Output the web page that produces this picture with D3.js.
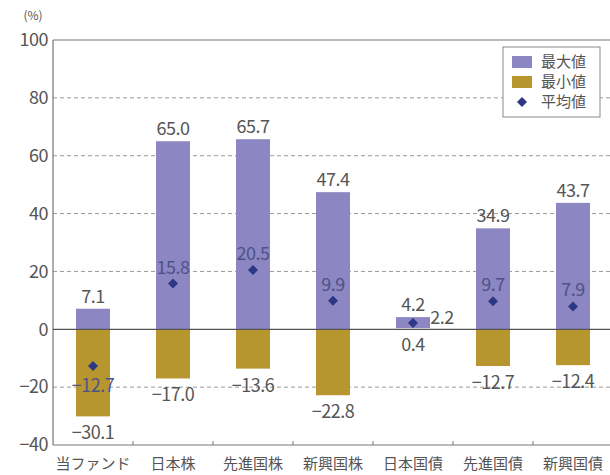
<!DOCTYPE html>
<html>
<head>
<meta charset="utf-8">
<script src="https://cdn.jsdelivr.net/npm/d3@7"></script>
<style>
  body { margin: 0; background: #fff; }
  svg text { font-family: "Noto Sans CJK JP", "Noto Sans", sans-serif; fill: #555; }
</style>
</head>
<body>
<svg id="chart" width="610" height="475"></svg>
<script>
var categories = ['当ファンド', '日本株', '先進国株', '新興国株', '日本国債', '先進国債', '新興国債'];
var maxValues = [7.1, 65.0, 65.7, 47.4, 4.2, 34.9, 43.7];
var minValues = [-30.1, -17.0, -13.6, -22.8, 0.4, -12.7, -12.4];
var avgValues = [-12.7, 15.8, 20.5, 9.9, 2.2, 9.7, 7.9];
var yTicks = [-40, -20, 0, 20, 40, 60, 80, 100];
var legendLabels = ['最大値', '最小値', '平均値'];

var margin = { top: 40, left: 53, bottom: 445, right: 613 };
var purple = '#8c86c2', gold = '#b7952f', navy = '#2c3785';
var barWidth = 34;

var svg = d3.select('#chart');

var x = d3.scaleBand()
    .domain(categories)
    .range([margin.left, margin.right])
    .padding(0);

var y = d3.scaleLinear()
    .domain([-40, 100])
    .range([margin.bottom, margin.top]);

// grid lines
svg.append('g')
    .selectAll('line')
    .data(yTicks.filter(function (d) { return d !== 0 && d !== -40 && d !== 100; }))
    .enter().append('line')
    .attr('x1', margin.left).attr('x2', 610)
    .attr('y1', function (d) { return y(d); })
    .attr('y2', function (d) { return y(d); })
    .attr('stroke', '#9a9a9a')
    .attr('stroke-width', 1)
    .attr('stroke-dasharray', '4,3');

// y axis labels
var yAxis = d3.axisLeft(y)
    .tickValues(yTicks)
    .tickSize(0)
    .tickPadding(5);

var gy = svg.append('g')
    .attr('transform', 'translate(' + margin.left + ',0)')
    .call(yAxis);
gy.select('.domain').remove();
gy.selectAll('text')
    .style('font-size', '18px')
    .style('font-family', '"Noto Sans CJK JP", sans-serif')
    .style('letter-spacing', '-0.5px')
    .attr('fill', '#555');

svg.append('text')
    .attr('x', 33).attr('y', 20)
    .attr('text-anchor', 'middle')
    .style('font-size', '12px')
    .text('(%)');

// bars
var data = categories.map(function (c, i) {
    return { cat: c, max: maxValues[i], min: minValues[i], avg: avgValues[i] };
});

function cx(d) { return x(d.cat) + x.bandwidth() / 2; }

svg.append('g').selectAll('rect')
    .data(data)
    .enter().append('rect')
    .attr('x', function (d) { return cx(d) - barWidth / 2; })
    .attr('y', function (d) { return y(d.max); })
    .attr('width', barWidth)
    .attr('height', function (d) { return y(Math.max(0, d.min)) - y(d.max); })
    .attr('fill', purple);

svg.append('g').selectAll('rect')
    .data(data.filter(function (d) { return d.min < 0; }))
    .enter().append('rect')
    .attr('x', function (d) { return cx(d) - barWidth / 2; })
    .attr('y', y(0))
    .attr('width', barWidth)
    .attr('height', function (d) { return y(d.min) - y(0); })
    .attr('fill', gold);

// frame: top, left, bottom, zero line
svg.append('line')
    .attr('x1', margin.left).attr('x2', 610)
    .attr('y1', y(100)).attr('y2', y(100))
    .attr('stroke', '#777').attr('stroke-width', 1.2);
svg.append('line')
    .attr('x1', margin.left).attr('x2', margin.left)
    .attr('y1', y(100)).attr('y2', y(-40))
    .attr('stroke', '#777').attr('stroke-width', 1.2);
svg.append('line')
    .attr('x1', margin.left).attr('x2', 610)
    .attr('y1', y(-40)).attr('y2', y(-40))
    .attr('stroke', '#777').attr('stroke-width', 1.2);
svg.append('line')
    .attr('x1', margin.left).attr('x2', 610)
    .attr('y1', y(0)).attr('y2', y(0))
    .attr('stroke', '#555').attr('stroke-width', 1.2);

// x tick marks between categories
svg.append('g').selectAll('line')
    .data(categories.slice(1))
    .enter().append('line')
    .attr('x1', function (d) { return x(d); })
    .attr('x2', function (d) { return x(d); })
    .attr('y1', y(-40)).attr('y2', y(-40) - 4)
    .attr('stroke', '#777');

// category labels
svg.append('g').selectAll('text')
    .data(categories)
    .enter().append('text')
    .attr('x', function (d) { return x(d) + x.bandwidth() / 2; })
    .attr('y', 469)
    .attr('text-anchor', 'middle')
    .style('font-size', '15px')
    .attr('fill', '#444')
    .text(function (d) { return d; });

// mean diamonds
var diamond = d3.symbol().type(d3.symbolDiamond2).size(64);
svg.append('g').selectAll('path')
    .data(data)
    .enter().append('path')
    .attr('d', diamond)
    .attr('transform', function (d) { return 'translate(' + cx(d) + ',' + y(d.avg) + ')'; })
    .attr('fill', navy);

function fmt(v) {
    return v < 0 ? '\u2212' + Math.abs(v).toFixed(1) : v.toFixed(1);
}

// labels for max / min / average
var labels = svg.append('g')
    .style('font-size', '18px')
    .style('letter-spacing', '-0.5px');

labels.selectAll('.max-label')
    .data(data)
    .enter().append('text')
    .attr('class', 'max-label')
    .attr('x', cx)
    .attr('y', function (d) { return y(d.max) - 6; })
    .attr('text-anchor', 'middle')
    .text(function (d) { return fmt(d.max); });

labels.selectAll('.min-label')
    .data(data)
    .enter().append('text')
    .attr('class', 'min-label')
    .attr('x', cx)
    .attr('y', function (d) { return d.min < 0 ? y(d.min) + 23 : y(0) + 22; })
    .attr('text-anchor', 'middle')
    .text(function (d) { return fmt(d.min); });

labels.selectAll('.avg-label')
    .data(data)
    .enter().append('text')
    .attr('class', 'avg-label')
    .attr('x', function (d) { return d.max - d.min < 10 ? cx(d) + barWidth / 2 + 12 : cx(d); })
    .attr('y', function (d) {
        if (d.max - d.min < 10) return y(d.avg) + 1;
        return d.avg < 0 ? y(d.avg) + 26 : y(d.avg) - 10;
    })
    .attr('text-anchor', 'middle')
    .style('fill', function (d) { return d.max - d.min < 10 ? '#555' : '#4e5288'; })
    .text(function (d) { return fmt(d.avg); });

// legend
var legend = svg.append('g').attr('transform', 'translate(503,47)');
legend.append('rect')
    .attr('width', 97).attr('height', 70)
    .attr('fill', '#fff')
    .attr('stroke', '#8a8a8a');

legendLabels.forEach(function (t, i) {
    var row = legend.append('g').attr('transform', 'translate(0,' + (15 + i * 20) + ')');
    if (i < 2) {
        row.append('rect')
            .attr('x', 9).attr('y', -6)
            .attr('width', 20).attr('height', 12)
            .attr('fill', i === 0 ? purple : gold);
    } else {
        row.append('path')
            .attr('d', diamond)
            .attr('transform', 'translate(19,0)')
            .attr('fill', navy);
    }
    row.append('text')
        .attr('x', 38).attr('y', 5)
        .style('font-size', '15px')
        .attr('fill', '#555')
        .text(t);
});
</script>
</body>
</html>
